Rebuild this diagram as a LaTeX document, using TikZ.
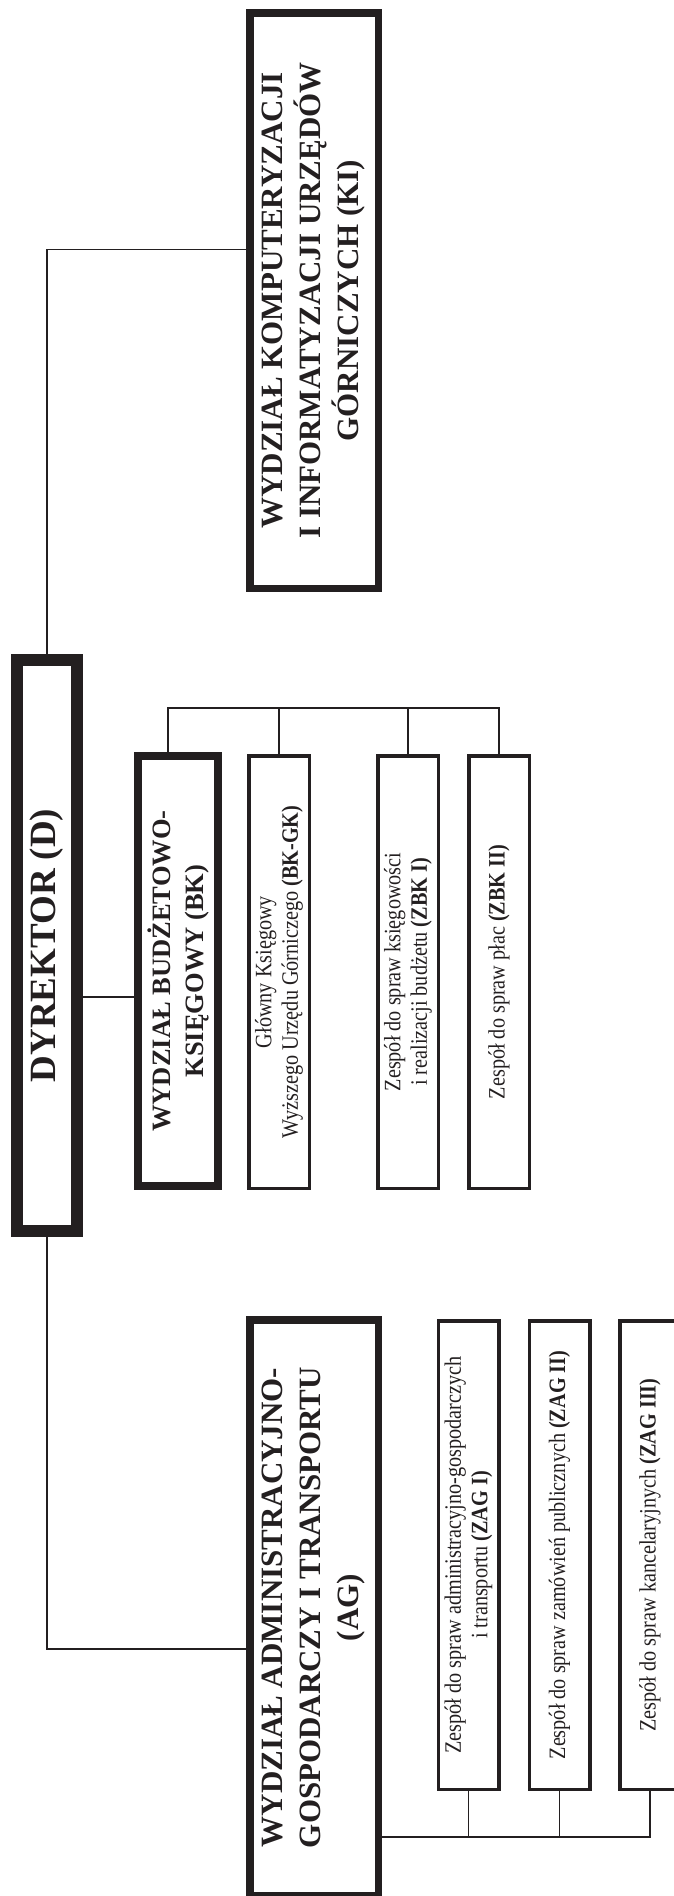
\documentclass[tikz,border=0pt]{standalone}
\usepackage{fontspec}
\setmainfont{Liberation Serif}
\newfontfamily\narrowserif[FakeStretch=0.86]{Liberation Serif}
\definecolor{ink}{HTML}{231F20}

\begin{document}
\begin{tikzpicture}[x=1pt, y=-1pt,
      unitbox/.style={draw=ink, rotate=90, inner sep=0pt, align=center, text=ink},
      headbox/.style={unitbox, line width=12pt, minimum width=571pt, minimum height=60pt,
                      font=\fontsize{37}{44}\selectfont\bfseries},
      deptbox/.style={unitbox, line width=7.5pt, minimum width=575.5pt, minimum height=128.5pt,
                      font=\fontsize{31}{38}\selectfont\bfseries},
      bkbox/.style={unitbox, line width=8pt, minimum width=430pt, minimum height=80pt,
                    font=\fontsize{26.5}{33}\selectfont\bfseries},
      teambox/.style={unitbox, line width=3.5pt, minimum width=432.5pt, minimum height=60.5pt,
                      font=\fontsize{23.5}{26.5}\narrowserif},
      wire/.style={draw=ink, line width=1.1pt}]
    \useasboundingbox (0,0) rectangle (673,1896);
    \node[headbox] (D) at (47,945.5) {DYREKTOR (D)};
    \node[deptbox] (KI) at (314,300.5)
      {WYDZIAŁ KOMPUTERYZACJI\\ I INFORMATYZACJI URZĘDÓW\\ GÓRNICZYCH (KI)};
    \node[deptbox] (AG) at (314,1607.5)
      {WYDZIAŁ ADMINISTRACYJNO-\\ GOSPODARCZY I TRANSPORTU\\ (AG)};
    \node[bkbox] (BK) at (178,971) {WYDZIAŁ BUDŻETOWO-\\ KSIĘGOWY (BK)};
    \foreach \n/\x/\txt in {BKGK/279/{Główny Księgowy\\ Wyższego Urzędu Górniczego \textbf{(BK-GK)}},
                            ZBKI/408/{Zespół do spraw księgowości\\ i realizacji budżetu \textbf{(ZBK I)}},
                            ZBKII/499/{Zespół do spraw płac \textbf{(ZBK II)}}}
      \node[teambox] (\n) at (\x,972) {\txt};
    \foreach \n/\x/\txt in {ZAGI/468.5/{Zespół do spraw administracyjno-gospodarczych\\ i transportu \textbf{(ZAG I)}},
                            ZAGII/559.5/{Zespół do spraw zamówień publicznych \textbf{(ZAG II)}},
                            ZAGIII/650/{Zespół do spraw kancelaryjnych \textbf{(ZAG III)}}}
      \node[teambox, minimum width=468.5pt] (\n) at (\x,1555) {\txt};
    % connectors
    \coordinate (kiin) at ([yshift=51pt]KI.north);
    \coordinate (agin) at ([yshift=-41.5pt]AG.north);
    \coordinate (bkin) at ([yshift=-26pt]BK.north);
    \coordinate (bkout) at ([xshift=-10pt]BK.east);
    \coordinate (bkbus) at (0,708);
    \coordinate (agbus) at (0,1837);
    \draw[wire] (D.east) |- (kiin);
    \draw[wire] (D.west) |- (agin);
    \draw[wire] (D.south |- bkin) -- (bkin);
    \draw[wire] (bkout) -- (bkout |- bkbus) -| (ZBKII.east);
    \foreach \n in {BKGK,ZBKI}
      \draw[wire] (\n.east) -- (\n.east |- bkbus);
    \draw[wire] (AG.south |- agbus) -| (ZAGIII.west);
    \foreach \n in {ZAGI,ZAGII}
      \draw[wire] (\n.west) -- (\n.west |- agbus);
  \end{tikzpicture}
\end{document}
